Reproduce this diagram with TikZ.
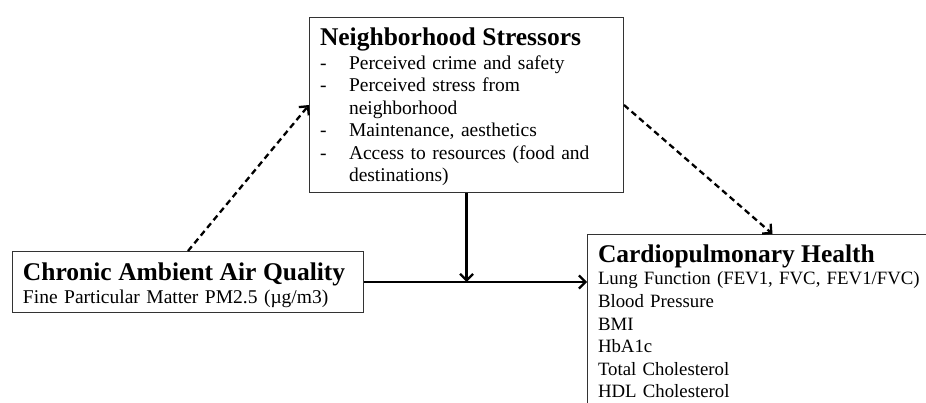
\documentclass[tikz,border=0pt]{standalone}
\usepackage{fontspec}
\setmainfont{Liberation Serif}
\usetikzlibrary{positioning,calc,arrows.meta}
\tikzset{font=\fontsize{19.5}{22.5}\selectfont}

\tikzset{
	box/.style={draw=black!80, line width=1pt, anchor=north west, align=left, inner xsep=10.5pt, inner ysep=0pt},
	link/.style={line width=2.3pt, -{Straight Barb[length=6.5pt,width=13pt]}},
	dashlink/.style={link, dash pattern=on 6pt off 4pt},
}
\newcommand{\boxtitle}[1]{{\fontsize{25.5}{24}\selectfont\bfseries #1}}
\newcommand{\dashitem}{\makebox[29pt][l]{-}}

\begin{document}
\begin{tikzpicture}[x=1pt, y=-1pt]
	\useasboundingbox (0,0) rectangle (926,403);
	\clip (0,0) rectangle (926,403);

	% boxes
	\node[box, text width=293pt, text height=28pt, text depth=147pt] (stress) at (309,17)
		{\boxtitle{Neighborhood Stressors}\\[1.5pt]
		\dashitem Perceived crime and safety\\
		\dashitem Perceived stress from\\
		\hspace*{29pt}neighborhood\\
		\dashitem Maintenance, aesthetics\\
		\dashitem Access to resources (food and\\
		\hspace*{29pt}destinations)};
	\node[box, text width=330pt, text height=29pt, text depth=32pt] (air) at (12,251)
		{\boxtitle{Chronic Ambient Air Quality}\\
		Fine Particular Matter PM2.5 (µg/m3)};
	\node[box, text width=349pt, text height=28pt, text depth=190pt,
		font=\fontsize{18.8}{22.5}\selectfont] (health) at (587,234)
		{\boxtitle{Cardiopulmonary Health}\\
		Lung Function (FEV1, FVC, FEV1/FVC)\\
		Blood Pressure\\
		BMI\\
		HbA1c\\
		Total Cholesterol\\
		HDL Cholesterol};

	% paths
	\draw[dashlink] (air.north) -- (stress.west);
	\draw[dashlink] (stress.east) -- (health.north);
	\draw[link] (air.east) -- (air.east -| health.west);
	\draw[link] (stress.south) -- (stress.south |- air.east);
\end{tikzpicture}
\end{document}
